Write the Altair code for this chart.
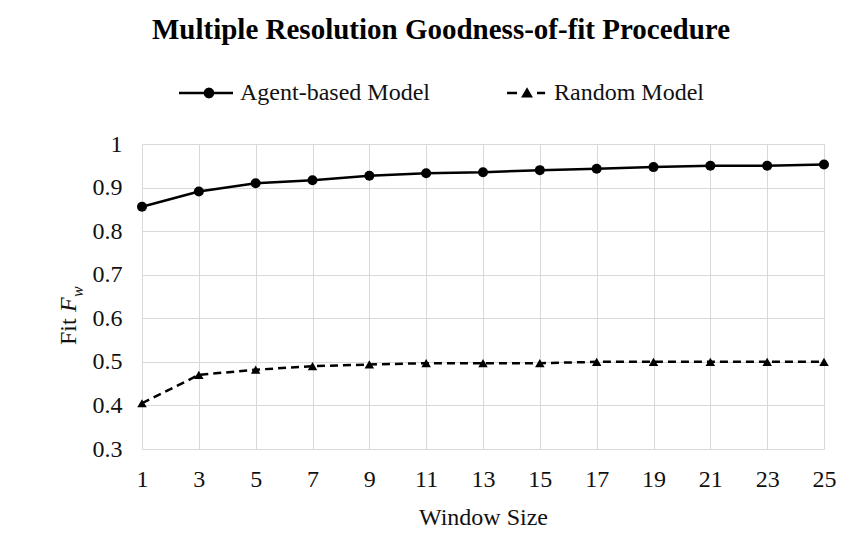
import altair as alt
import pandas as pd

window_size = [1, 3, 5, 7, 9, 11, 13, 15, 17, 19, 21, 23, 25]
agent_fit = [0.856, 0.891, 0.910, 0.917, 0.927, 0.933, 0.935, 0.940, 0.943, 0.947, 0.950, 0.950, 0.953]
random_fit = [0.405, 0.470, 0.482, 0.490, 0.494, 0.497, 0.497, 0.497, 0.500, 0.500, 0.500, 0.500, 0.500]
series_names = ["Agent-based Model", "Random Model"]
x_ticks = [1, 3, 5, 7, 9, 11, 13, 15, 17, 19, 21, 23, 25]
y_ticks = [0.3, 0.4, 0.5, 0.6, 0.7, 0.8, 0.9, 1.0]

rows = []
for w, a, r in zip(window_size, agent_fit, random_fit):
    rows.append({"w": w, "fit": a, "series": series_names[0]})
    rows.append({"w": w, "fit": r, "series": series_names[1]})
df = pd.DataFrame(rows)

FONT = "Liberation Serif"
TXT = "#111111"
GRID = "#d9d9d9"

x = alt.X("w:Q", scale=alt.Scale(domain=[1, 25], nice=False, zero=False),
          axis=alt.Axis(values=x_ticks, title="Window Size", grid=True, domain=False, ticks=False,
                        labelPadding=18, titlePadding=14, labelFlush=False))
y = alt.Y("fit:Q", scale=alt.Scale(domain=[0.3, 1.0], nice=False, zero=False),
          axis=alt.Axis(values=y_ticks, title=None, grid=True, domain=False, ticks=False,
                        labelPadding=20, labelExpr="format(datum.value, '.1~f')"))

is_agent = alt.datum.series == series_names[0]
is_random = alt.datum.series == series_names[1]

agent_line = alt.Chart(df).transform_filter(is_agent).mark_line(
    color="black", strokeWidth=2.5).encode(x=x, y=y)
random_line = alt.Chart(df).transform_filter(is_random).mark_line(
    color="black", strokeWidth=2.5, strokeDash=[8, 5]).encode(x=x, y=y)

agent_pts = alt.Chart(df).transform_filter(is_agent).mark_point(
    filled=True, color="black", opacity=1, shape="circle", size=100
).encode(x=x, y=y)
random_pts = alt.Chart(df).transform_filter(is_random).mark_point(
    filled=True, color="black", opacity=1, shape="triangle-up", size=90
).encode(x=x, y=y)

# legend glyphs drawn as filled paths (line segments as thin rectangles), unit box -1..1
agent_sym = ("M-1 -0.046L1 -0.046L1 0.046L-1 0.046Z"
             "M0.31 0L0.283 0.1L0.21 0.173L0.11 0.2L0.01 0.173L-0.063 0.1"
             "L-0.09 0L-0.063 -0.1L0.01 -0.173L0.11 -0.2L0.21 -0.173L0.283 -0.1Z")
random_sym = ("M-0.48 -0.046L-0.11 -0.046L-0.11 0.046L-0.48 0.046Z"
              "M0.63 -0.046L0.93 -0.046L0.93 0.046L0.63 0.046Z"
              "M0.04 0.17L0.26 -0.21L0.48 0.17Z")

legend_layer = alt.Chart(df).mark_point(
    filled=True, color="black", opacity=1, size=0
).encode(
    x=x, y=y,
    shape=alt.Shape("series:N", scale=alt.Scale(domain=series_names, range=[agent_sym, random_sym]),
                    legend=alt.Legend(orient="none", legendX=36, legendY=-79, direction="horizontal",
                                      title=None, symbolSize=2916,
                                      symbolFillColor="black", symbolOpacity=1,
                                      labelFont=FONT, labelFontSize=24, labelColor=TXT, labelOffset=6,
                                      labelLimit=400, columnPadding=62)),
)

one = "datum.w == 1 && datum.series == 'Agent-based Model'"
ylab_fit = alt.Chart(df).transform_filter(one).mark_text(
    text="Fit", angle=270, align="left", baseline="middle", font=FONT, fontSize=24, color=TXT
).encode(x=alt.value(-73), y=alt.value(201))
ylab_F = alt.Chart(df).transform_filter(one).mark_text(
    text="F", angle=270, align="left", baseline="middle", font=FONT, fontSize=24, fontStyle="italic", color=TXT
).encode(x=alt.value(-73), y=alt.value(168))
ylab_w = alt.Chart(df).transform_filter(one).mark_text(
    text="w", angle=270, align="left", baseline="middle", font=FONT, fontSize=16, fontStyle="italic", color=TXT
).encode(x=alt.value(-64), y=alt.value(153))

chart = alt.layer(agent_line, random_line, agent_pts, random_pts, legend_layer,
                  ylab_fit, ylab_F, ylab_w).properties(
    width=682, height=305,
    autosize=alt.AutoSizeParams(type="none"),
    padding={"left": 134, "top": 136, "right": 25, "bottom": 82},
    title=alt.TitleParams("Multiple Resolution Goodness-of-fit Procedure", font=FONT, fontSize=29,
                          fontWeight="bold", color="black", anchor="middle", dx=-42, offset=20),
).configure_axis(
    gridColor=GRID, gridWidth=1, labelFont=FONT, labelFontSize=24, labelColor=TXT,
    titleFont=FONT, titleFontSize=24, titleColor=TXT, titleFontWeight="normal",
).configure_view(stroke=None)

chart.save("out.html", embed_options={"renderer": "svg", "actions": False})
